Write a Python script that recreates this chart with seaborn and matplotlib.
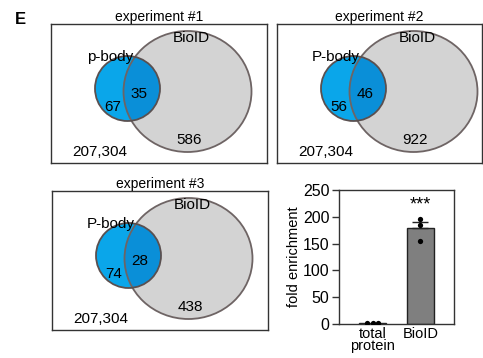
import matplotlib
matplotlib.use("Agg")
import matplotlib.pyplot as plt
import numpy as np
import pandas as pd
import seaborn as sns
from matplotlib.patches import Circle, Ellipse

sns.set_style("white")
plt.rcParams['font.family'] = ['Liberation Sans', 'DejaVu Sans']
plt.rcParams['text.color'] = 'black'
plt.rcParams['axes.labelcolor'] = 'black'
plt.rcParams['xtick.color'] = 'black'
plt.rcParams['ytick.color'] = 'black'

# Venn counts per experiment
experiments = ["experiment #1", "experiment #2", "experiment #3"]
pbody_labels = ["p-body", "P-body", "P-body"]
pbody_only = [67, 56, 74]
overlap = [35, 46, 28]
biolid_only = [586, 922, 438]
background = ["207,304", "207,304", "207,304"]

# fold enrichment bar chart
groups = ["total\nprotein", "BioID"]
total_protein = [1, 1, 1]
biolid = [196, 185, 155]

W, H = 483, 358
fig = plt.figure(figsize=(W / 100, H / 100), dpi=100)


def px_axes(x0, y0, w, h):
    return fig.add_axes([x0 / W, 1 - (y0 + h) / H, w / W, h / H])


def draw_venn(ax, i, width):
    # axes in pixel units, y pointing down
    ax.set_xlim(0, width)
    ax.set_ylim(139, 0)
    ax.set_xticks([])
    ax.set_yticks([])
    for s in ax.spines.values():
        s.set_color("#333333")
        s.set_linewidth(1.0)
    ax.add_patch(Circle((76.5, 64.5), 32.5, facecolor="#0aa6ea", edgecolor="none", zorder=1))
    gray = Ellipse((136.5, 67.5), 128, 121, facecolor="#d3d3d3", edgecolor="none", zorder=2)
    ax.add_patch(gray)
    inter = Circle((76.5, 64.5), 32.5, facecolor="#0a8fd8", edgecolor="none", zorder=3)
    ax.add_patch(inter)
    inter.set_clip_path(gray)
    ax.add_patch(Ellipse((136.5, 67.5), 128, 121, facecolor="none", edgecolor="#6e6464", lw=1.3, zorder=4))
    ax.add_patch(Circle((76.5, 64.5), 32.5, facecolor="none", edgecolor="#5a5050", lw=1.3, zorder=4))
    fs = 11
    ax.text(59, 33, pbody_labels[i], ha="center", va="center", fontsize=fs, zorder=5)
    ax.text(140, 14, "BioID", ha="center", va="center", fontsize=fs, zorder=5)
    ax.text(62, 83, str(pbody_only[i]), ha="center", va="center", fontsize=fs, zorder=5)
    ax.text(88, 70, str(overlap[i]), ha="center", va="center", fontsize=fs, zorder=5)
    ax.text(138, 116, str(biolid_only[i]), ha="center", va="center", fontsize=fs, zorder=5)
    ax.text(49, 128, background[i], ha="center", va="center", fontsize=fs, zorder=5)
    ax.set_title(experiments[i], fontsize=10, pad=2)


boxes = [(51, 24, 216), (277, 24, 205), (52, 191, 216)]
for i, (bx0, by0, bw) in enumerate(boxes):
    ax = px_axes(bx0, by0, bw, 139)
    draw_venn(ax, i, bw)

fig.text(20 / W, 1 - 19 / H, "E", fontsize=12, fontweight="bold", ha="center", va="center")

# bar chart
df = pd.DataFrame({
    "group": [groups[0]] * len(total_protein) + [groups[1]] * len(biolid),
    "value": total_protein + biolid,
})
bx = px_axes(339, 190, 115, 134)
sns.barplot(data=df, x="group", y="value", errorbar=None, color="#7f7f7f",
            edgecolor="#222222", linewidth=1, width=0.57, ax=bx, zorder=1)
vals = np.array(biolid, dtype=float)
sem = vals.std(ddof=1) / np.sqrt(len(vals))
bx.errorbar([1], [vals.mean()], yerr=[[0], [sem]], fmt="none", ecolor="#222222",
            elinewidth=1, capsize=6, capthick=1, zorder=3)
sns.swarmplot(data=df, x="group", y="value", color="black", size=3.8, ax=bx, zorder=4)
bx.text(1, 222, "***", ha="center", va="center", fontsize=13)
bx.set_xlim(-0.7, 1.7)
bx.set_ylim(0, 250)
bx.set_yticks([0, 50, 100, 150, 200, 250])
bx.set_xlabel("")
bx.set_ylabel("fold enrichment", fontsize=10.5, labelpad=1)
bx.tick_params(axis="y", length=5, width=1, direction="out", left=True, labelsize=11.5, pad=2, color="#333333")
bx.tick_params(axis="x", length=0, labelsize=10.5, pad=2)
for lbl in bx.get_xticklabels():
    lbl.set_linespacing(0.85)
for s in bx.spines.values():
    s.set_color("#333333")
    s.set_linewidth(1.0)

fig.savefig("out.png", dpi=100)
